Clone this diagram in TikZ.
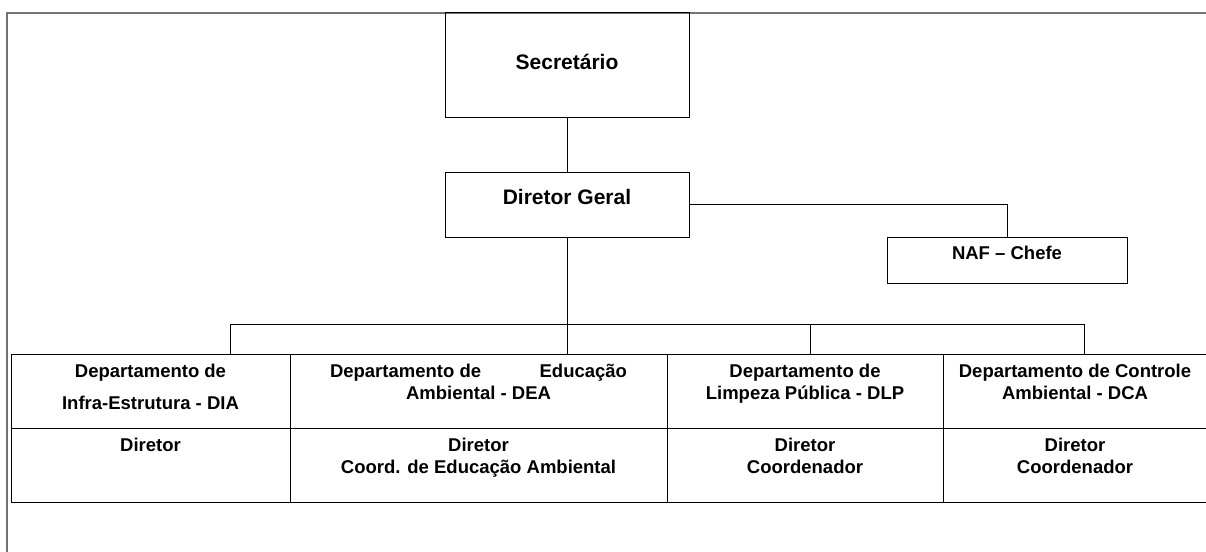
\documentclass[tikz,border=0pt]{standalone}
\usepackage{fontspec}
\setmainfont{Liberation Sans}
\begin{document}
\begin{tikzpicture}[x=1pt,y=-1pt,
  box/.style={draw=black, line width=1pt, inner sep=0pt},
  big/.style={font=\bfseries\fontsize{21}{25}\selectfont, inner sep=0pt},
  txt/.style={font=\bfseries\fontsize{18.5}{22}\selectfont, inner sep=0pt, align=center},
  wire/.style={draw=black, line width=1pt},
  frameline/.style={draw=black!55, line width=1.6pt}]
\useasboundingbox (0,0) rectangle (1206,551);
% outer frame (top and left only)
\coordinate (fTR) at (1212,13);
\coordinate (fTL) at (7,13);
\coordinate (fBL) at (7,553);
\draw[frameline] (fTR) -- (fTL) -- (fBL);

% top boxes
\node[box, minimum width=244pt, minimum height=104pt] (sec) at (567,65) {};
\node[big] (secT) at (567,62) {Secretário};
\node[box, minimum width=244pt, minimum height=65pt] (dg) at (567,204.5) {};
\node[big] (dgT) at (567,197) {Diretor Geral};
\node[box, minimum width=240pt, minimum height=46pt] (naf) at (1007,260) {};
\node[txt] (nafT) at (1007,253) {NAF – Chefe};

% table cells, row 1
\node[box, minimum width=279pt, minimum height=74pt] (c1) at (150.5,391) {};
\node[box, minimum width=377pt, minimum height=74pt] (c2) at (478.5,391) {};
\node[box, minimum width=276pt, minimum height=74pt] (c3) at (805,391) {};
\node[box, minimum width=272pt, minimum height=74pt] (c4) at (1079,391) {};
% table cells, row 2
\node[box, minimum width=279pt, minimum height=74pt] (d1) at (150.5,465) {};
\node[box, minimum width=377pt, minimum height=74pt] (d2) at (478.5,465) {};
\node[box, minimum width=276pt, minimum height=74pt] (d3) at (805,465) {};
\node[box, minimum width=272pt, minimum height=74pt] (d4) at (1079,465) {};

% row 1 texts
\node[txt, anchor=north, font=\bfseries\fontsize{18.5}{32}\selectfont] (t1) at (150.5,363.5) {Departamento de\\Infra-Estrutura - DIA};
\node[txt, anchor=north] (t2) at (478.5,363.5) {\makebox[297pt]{Departamento de\hfill Educação}\\Ambiental - DEA};
\node[txt, anchor=north] (t3) at (805,363.5) {Departamento de\\Limpeza Pública - DLP};
\node[txt, anchor=north] (t4) at (1075,363.5) {Departamento de Controle\\Ambiental - DCA};
% row 2 texts
\node[txt, anchor=north] (u1) at (150.5,437.5) {Diretor};
\node[txt, anchor=north] (u2) at (478.5,437.5) {Diretor\\Coord. de Educação Ambiental};
\node[txt, anchor=north] (u3) at (805,437.5) {Diretor\\Coordenador};
\node[txt, anchor=north] (u4) at (1075,437.5) {Diretor\\Coordenador};

% connectors
\draw[wire] (sec.south) -- (dg.north);
\draw[wire] (dg.east) -| (naf.north);
\draw[wire] (dg.south) -- (dg.south |- c2.north);
\coordinate (bL) at (230,324);
\coordinate (b3) at (810,324);
\coordinate (bR) at (1084,324);
\draw[wire] (bL) -- (bR);
\draw[wire] (bL) -- (bL |- c1.north);
\draw[wire] (b3) -- (b3 |- c3.north);
\draw[wire] (bR) -- (bR |- c4.north);
\end{tikzpicture}
\end{document}
